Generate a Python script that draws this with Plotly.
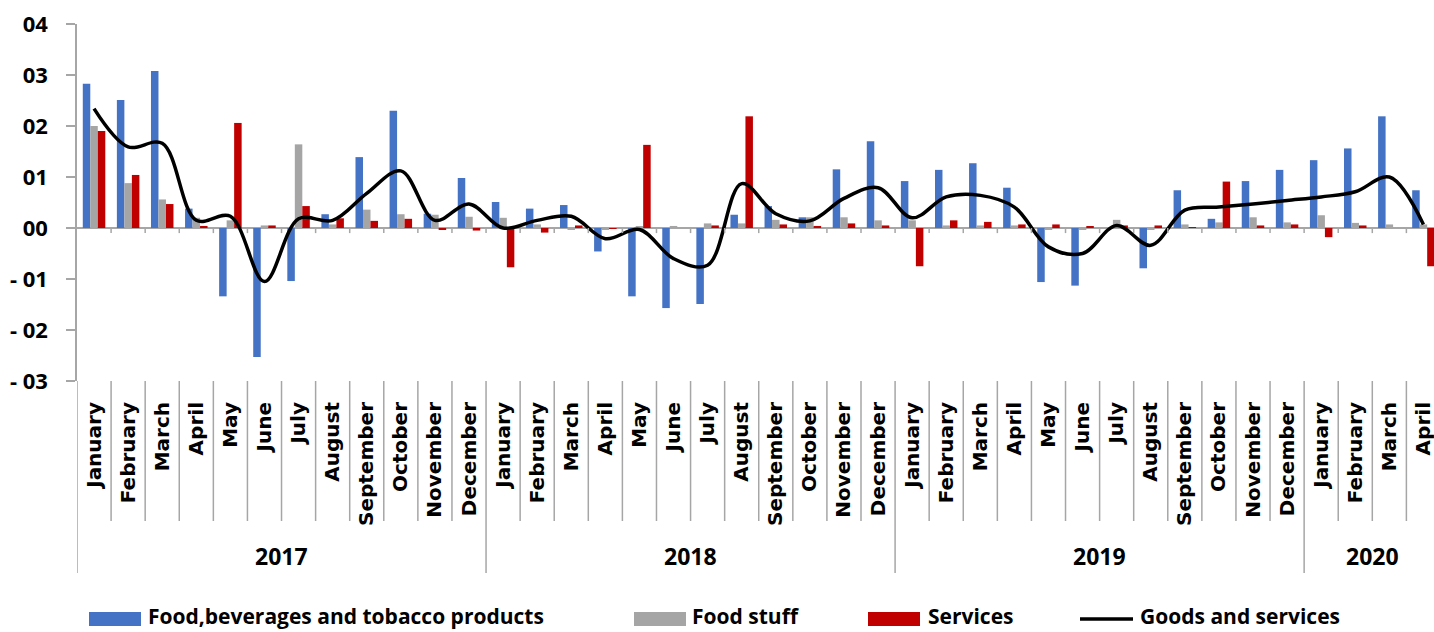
import plotly.graph_objects as go

years = ["2017", "2018", "2019", "2020"]
year_lengths = [12, 12, 12, 4]
month_names = ["January", "February", "March", "April", "May", "June", "July",
               "August", "September", "October", "November", "December"]
months = []
for n in year_lengths:
    months += month_names[:n]

series_names = ["Food,beverages and tobacco products", "Food stuff", "Services", "Goods and services"]

food_bev_tob = [2.83, 2.51, 3.08, 0.38, -1.34, -2.53, -1.04, 0.27, 1.39, 2.30, 0.28, 0.98,
                0.51, 0.38, 0.45, -0.46, -1.34, -1.57, -1.49, 0.26, 0.43, 0.21, 1.15, 1.70,
                0.92, 1.14, 1.27, 0.79, -1.06, -1.13, 0.00, -0.79, 0.74, 0.18, 0.92, 1.14,
                1.33, 1.56, 2.19, 0.74]
food_stuff = [2.00, 0.88, 0.56, 0.20, 0.15, 0.05, 1.64, 0.07, 0.36, 0.27, 0.26, 0.22,
              0.20, 0.07, -0.03, -0.02, 0.02, 0.04, 0.09, 0.09, 0.16, 0.21, 0.21, 0.15,
              0.15, 0.05, 0.05, 0.05, -0.03, -0.02, 0.16, -0.02, 0.07, 0.11, 0.21, 0.11,
              0.25, 0.10, 0.07, 0.07]
services = [1.90, 1.04, 0.47, 0.04, 2.06, 0.05, 0.43, 0.19, 0.14, 0.18, -0.03, -0.05,
            -0.77, -0.09, 0.05, -0.01, 1.63, 0.00, 0.05, 2.19, 0.07, 0.04, 0.09, 0.05,
            -0.75, 0.15, 0.12, 0.07, 0.07, 0.03, 0.05, 0.05, 0.01, 0.91, 0.05, 0.07,
            -0.18, 0.05, 0.00, -0.75]
goods_services = [2.34, 1.59, 1.66, 0.15, 0.23, -1.05, 0.18, 0.15, 0.68, 1.12, 0.15, 0.47,
                  0.00, 0.15, 0.23, -0.21, -0.03, -0.60, -0.73, 0.87, 0.28, 0.14, 0.58, 0.79,
                  0.20, 0.61, 0.64, 0.41, -0.37, -0.50, 0.05, -0.34, 0.35, 0.41, 0.47, 0.54,
                  0.61, 0.71, 1.00, 0.07]

y_ticks = [-3, -2, -1, 0, 1, 2, 3, 4]
y_tick_text = ["- 03", "- 02", "- 01", "00", "01", "02", "03", "04"]

colors = ["#4472C4", "#A5A5A5", "#C00000", "black"]

x = list(range(len(months)))

W, H = 1434, 632
left, top, bottom_plot = 77, 24, 381
plot_h = bottom_plot - top
plot_w = W - left


def py(px):
    return (bottom_plot - px) / plot_h


def pxx(px):
    return (px - left) / plot_w


fig = go.Figure()
for vals, name, col in zip([food_bev_tob, food_stuff, services], series_names[:3], colors[:3]):
    fig.add_trace(go.Bar(x=x, y=vals, name=name, showlegend=False,
                         marker=dict(color=col, line=dict(width=0))))
fig.add_trace(go.Scatter(x=x, y=goods_services, name=series_names[3], mode="lines", showlegend=False,
                         line=dict(color="black", width=3.5, shape="spline", smoothing=1.0)))

grey = "#A6A6A6"
shapes = []
for i in range(len(months) - 1):
    b = i + 0.5
    shapes.append(dict(type="line", xref="x", yref="y", x0=b, x1=b, y0=0, y1=-0.1,
                       line=dict(color=grey, width=1.5)))
starts = [0]
for n in year_lengths:
    starts.append(starts[-1] + n)
year_bounds = set(s - 0.5 for s in starts[:-1])
for i in range(len(months)):
    b = i - 0.5
    y_end = py(573) if b in year_bounds else py(521)
    shapes.append(dict(type="line", xref="x", yref="paper", x0=b, x1=b, y0=0, y1=y_end,
                       line=dict(color=grey, width=1.5)))

annotations = []
for k, yr in enumerate(years):
    cx = starts[k] + (year_lengths[k] - 1) / 2
    annotations.append(dict(x=cx, y=py(556), xref="x", yref="paper", text=yr, showarrow=False,
                            font=dict(family="Open Sans", size=23, color="black", weight="bold"),
                            xanchor="center", yanchor="middle"))

# custom legend (wide swatches like the reference)
leg_font = dict(family="Open Sans", size=21, color="black", weight="bold")
leg_swatch_x = [89, 634, 868, 1080]
leg_text_x = [146, 690, 926, 1138]
for k in range(4):
    if k < 3:
        shapes.append(dict(type="rect", xref="paper", yref="paper",
                           x0=pxx(leg_swatch_x[k]), x1=pxx(leg_swatch_x[k] + 52),
                           y0=py(626), y1=py(612), fillcolor=colors[k], line=dict(width=0)))
    else:
        shapes.append(dict(type="line", xref="paper", yref="paper",
                           x0=pxx(leg_swatch_x[k]), x1=pxx(leg_swatch_x[k] + 53),
                           y0=py(619), y1=py(619), line=dict(color="black", width=3.5)))
    annotations.append(dict(x=pxx(leg_text_x[k]), y=py(616), xref="paper", yref="paper",
                            text=series_names[k], showarrow=False, font=leg_font,
                            xanchor="left", yanchor="middle"))

fig.update_layout(
    width=W, height=H,
    margin=dict(l=left, r=0, t=top, b=H - bottom_plot, pad=0),
    paper_bgcolor="white", plot_bgcolor="white",
    barmode="group", bargap=0.34, bargroupgap=0,
    shapes=shapes, annotations=annotations,
    showlegend=False,
    xaxis=dict(range=[-0.5, 39.31], tickvals=x, ticktext=months, tickangle=-90,
               ticks="", showline=False, showgrid=False, zeroline=False,
               ticklabelstandoff=16, ticklabeloverflow="allow",
               tickfont=dict(family="DejaVu Sans", size=20, color="black", weight="bold")),
    yaxis=dict(range=[-3, 4], tickvals=y_ticks, ticktext=y_tick_text,
               ticks="outside", ticklen=9, tickcolor=grey, tickwidth=1.5,
               showline=True, linecolor=grey, linewidth=1.5,
               showgrid=False, zeroline=True, zerolinecolor=grey, zerolinewidth=2,
               ticklabelstandoff=14,
               tickfont=dict(family="Open Sans", size=22, color="black", weight="bold")),
)

fig.write_html("out.html", config={"displayModeBar": False},
               post_script="document.body.style.margin='0px';")
